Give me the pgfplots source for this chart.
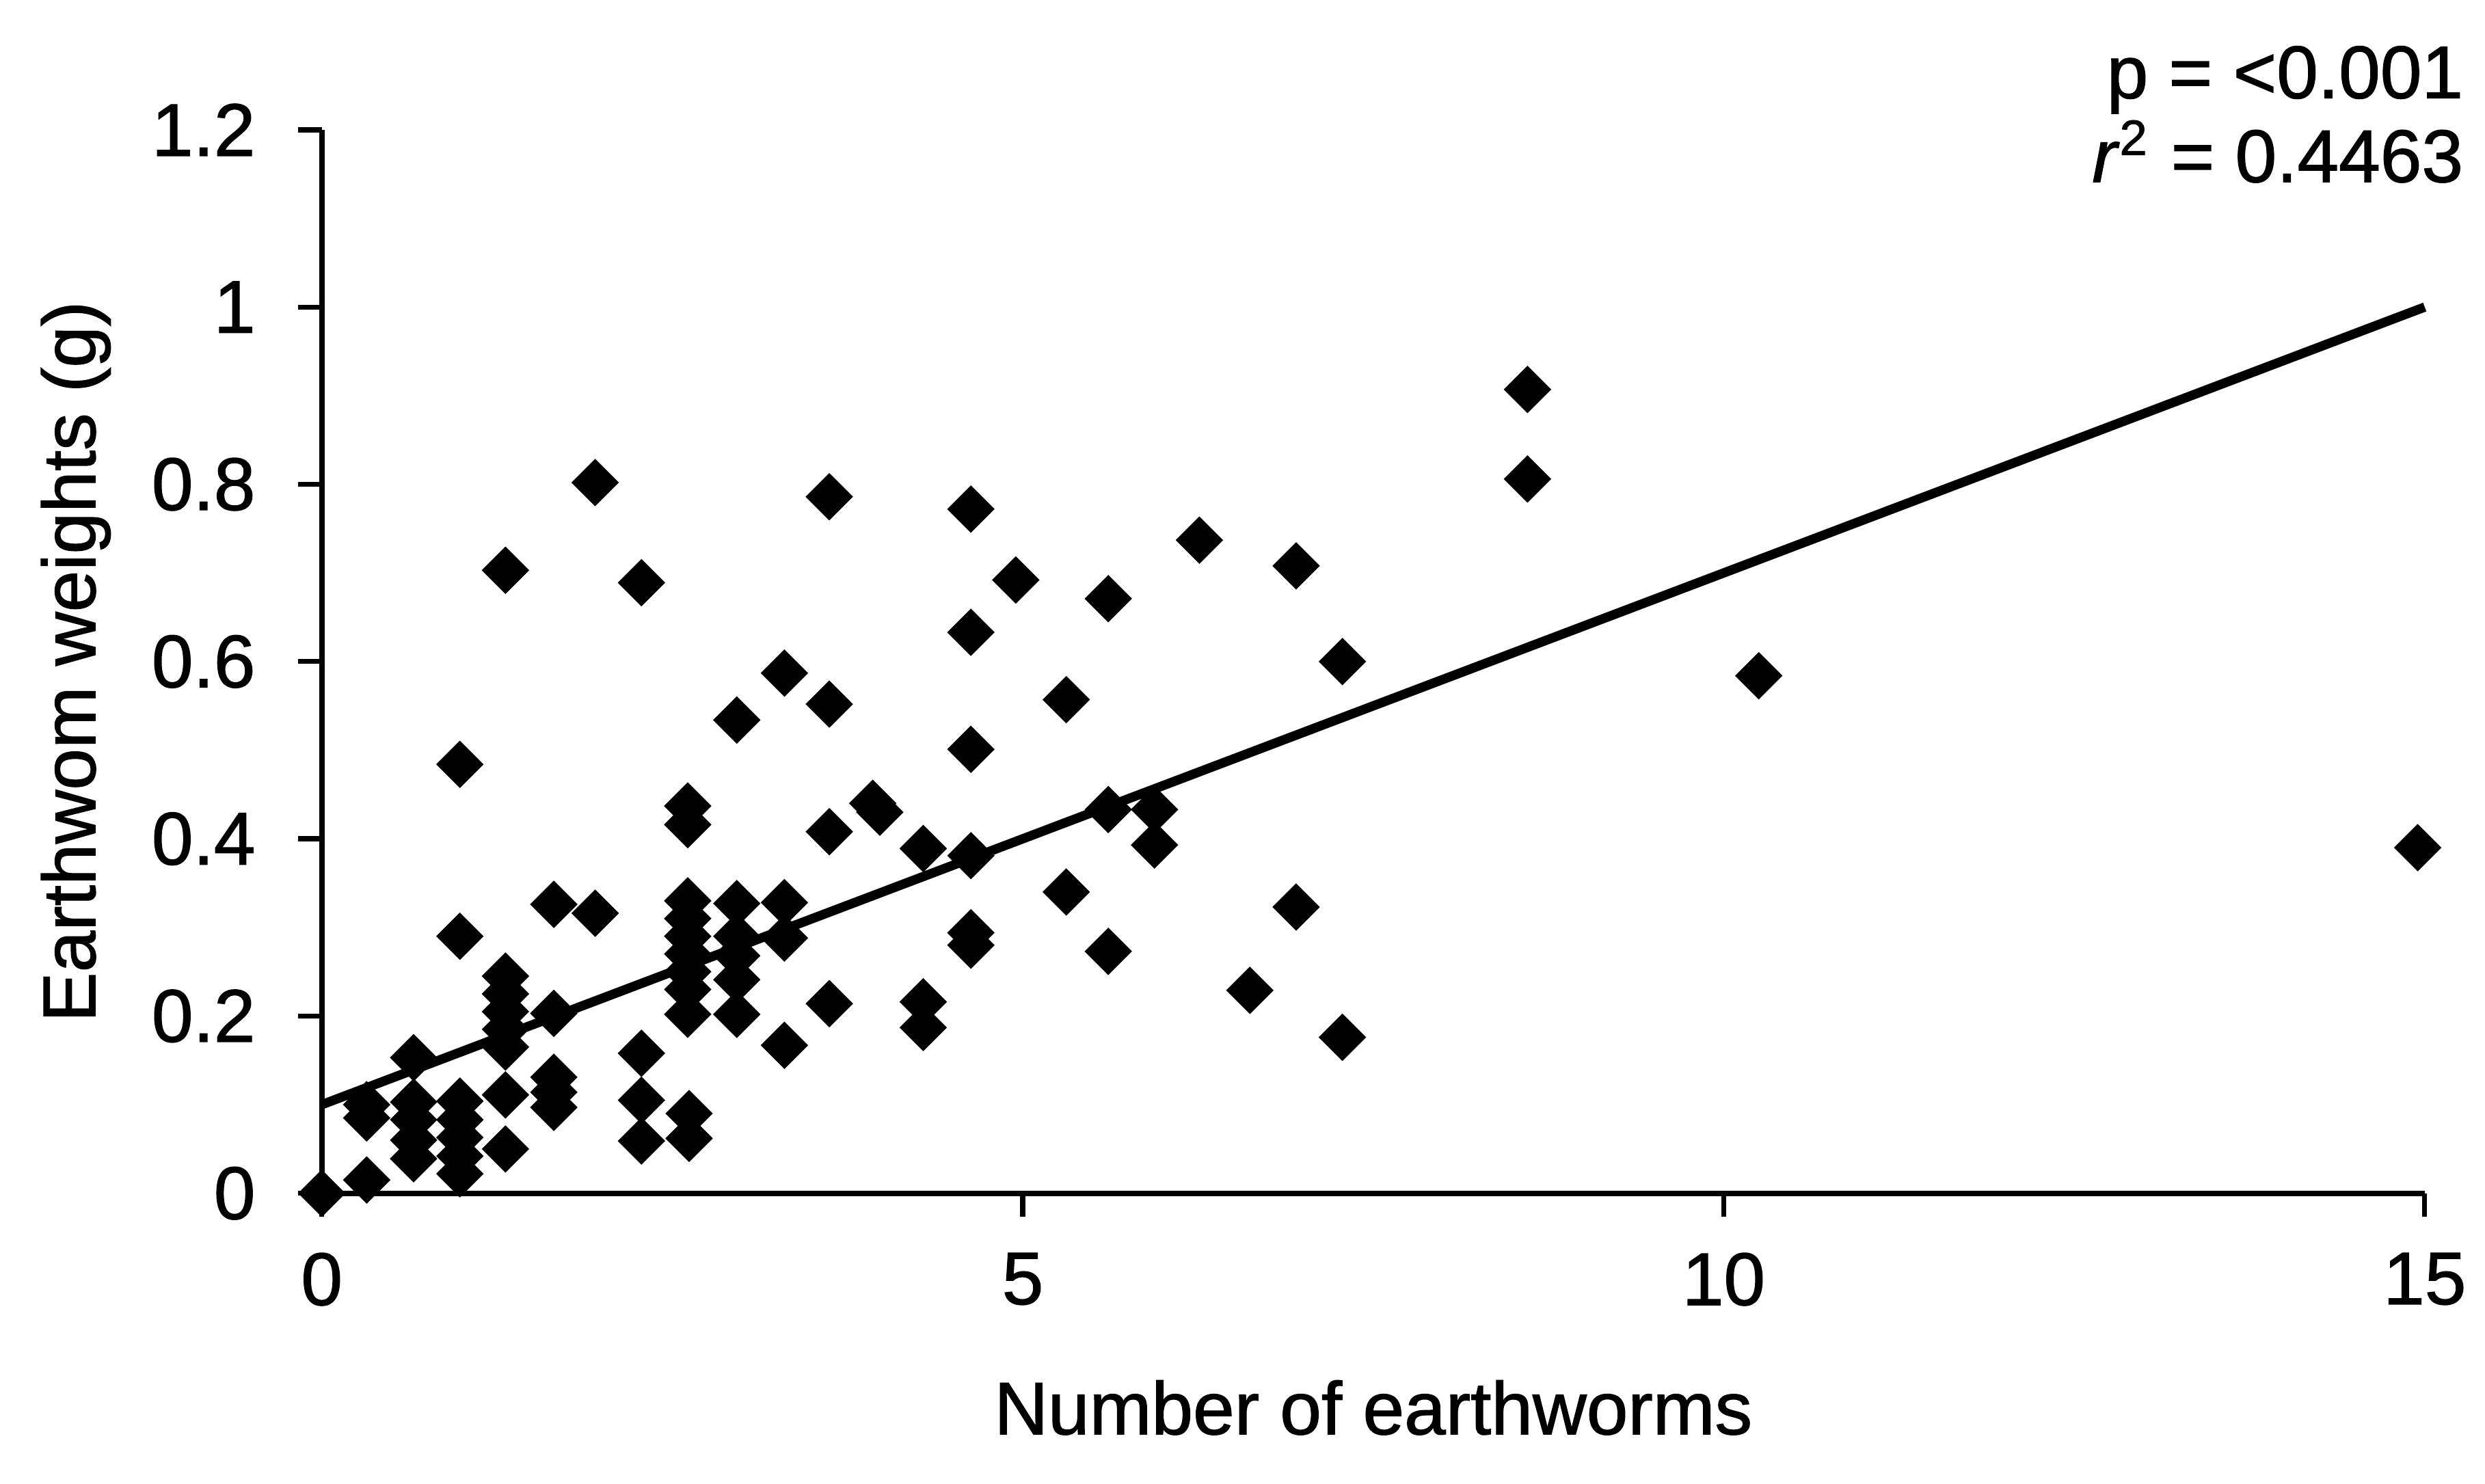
\documentclass[border=0pt]{standalone}
\usepackage{fontspec}
\setmainfont{Liberation Sans}[BoldFont={Liberation Sans}, BoldFeatures={FakeBold=1.2}, BoldItalicFont={Liberation Sans Italic}, BoldItalicFeatures={FakeBold=1.2}]
\usepackage{pgfplots}
\pgfplotsset{compat=1.18}
\begin{document}
\begin{tikzpicture}[font=\fontsize{12}{14}\selectfont\bfseries]
\useasboundingbox (0,0) rectangle (400pt,238.8pt);
\begin{axis}[
  at={(51.8pt,46.7pt)}, anchor=south west,
  scale only axis, width=338.5pt, height=171.2pt,
  xmin=0, xmax=15, ymin=0, ymax=1.2,
  axis x line*=bottom, axis y line*=left,
  axis line style={line width=0.9pt,-},
  xtick={0,5,10,15},
  ytick={0,0.2,0.4,0.6,0.8,1,1.2},
  yticklabels={0,0.2,0.4,0.6,0.8,1,1.2},
  tick align=outside, major tick length=3.8pt,
  tick style={line width=0.8pt, black},
  /pgf/number format/assume math mode=true,
  xticklabel style={anchor=north, inner sep=0pt, yshift=-5.6pt, font=\fontsize{12}{14}\selectfont\bfseries},
  yticklabel style={anchor=east, inner sep=0pt, xshift=-6.7pt, font=\fontsize{12}{14}\selectfont\bfseries},
  clip=false,
]
\addplot[only marks, mark=square*, mark size=2.5pt, mark options={rotate=45, fill=black, draw=black}] coordinates {
(0,0)
(0.32,0.015) (0.32,0.085) (0.32,0.10)
(0.655,0.153) (0.655,0.103) (0.655,0.083) (0.655,0.060) (0.655,0.039)
(0.985,0.484) (0.985,0.29) (0.985,0.104) (0.985,0.083) (0.985,0.063) (0.985,0.042) (0.985,0.022)
(1.31,0.703) (1.31,0.245) (1.31,0.225) (1.31,0.205) (1.31,0.185) (1.31,0.165) (1.31,0.111) (1.31,0.05)
(1.655,0.326) (1.655,0.203) (1.655,0.131) (1.655,0.114) (1.655,0.097)
(1.95,0.802) (1.95,0.316)
(2.28,0.689) (2.28,0.158) (2.28,0.105) (2.28,0.059)
(2.61,0.437) (2.61,0.416) (2.61,0.330) (2.61,0.31) (2.61,0.29) (2.61,0.27) (2.61,0.25) (2.61,0.23) (2.61,0.202) (2.62,0.09) (2.62,0.062)
(2.96,0.534) (2.96,0.327) (2.96,0.29) (2.96,0.268) (2.96,0.241) (2.96,0.202)
(3.30,0.587) (3.30,0.328) (3.30,0.288) (3.30,0.167)
(3.62,0.786) (3.62,0.552) (3.62,0.408) (3.62,0.214)
(3.93,0.44) (3.98,0.43)
(4.29,0.389) (4.29,0.216) (4.29,0.187)
(4.63,0.772) (4.63,0.633) (4.63,0.501) (4.63,0.381) (4.63,0.294) (4.63,0.28)
(4.95,0.692)
(5.31,0.557) (5.31,0.340)
(5.61,0.671) (5.61,0.433) (5.61,0.273)
(5.94,0.433) (5.94,0.393)
(6.26,0.737)
(6.62,0.229)
(6.95,0.708) (6.95,0.323)
(7.28,0.60) (7.28,0.176)
(8.6,0.907) (8.6,0.806)
(10.25,0.584)
(14.95,0.39)
};
\addplot[black, line width=1.5pt] coordinates {(0,0.1) (15,1.0)};
\node[anchor=base] at (axis description cs:0.5,-0.2266) {Number of earthworms};
\node[rotate=90, anchor=base] at (axis description cs:-0.1078,0.5) {Earthwom weights (g)};
\end{axis}
\node[anchor=base east, inner sep=0pt] at (396.7pt,223.0pt) {p = <0.001};
\node[anchor=base east, inner sep=0pt] at (396.7pt,209.5pt) {\textit{r}\textsuperscript{2} = 0.4463};
\end{tikzpicture}
\end{document}
